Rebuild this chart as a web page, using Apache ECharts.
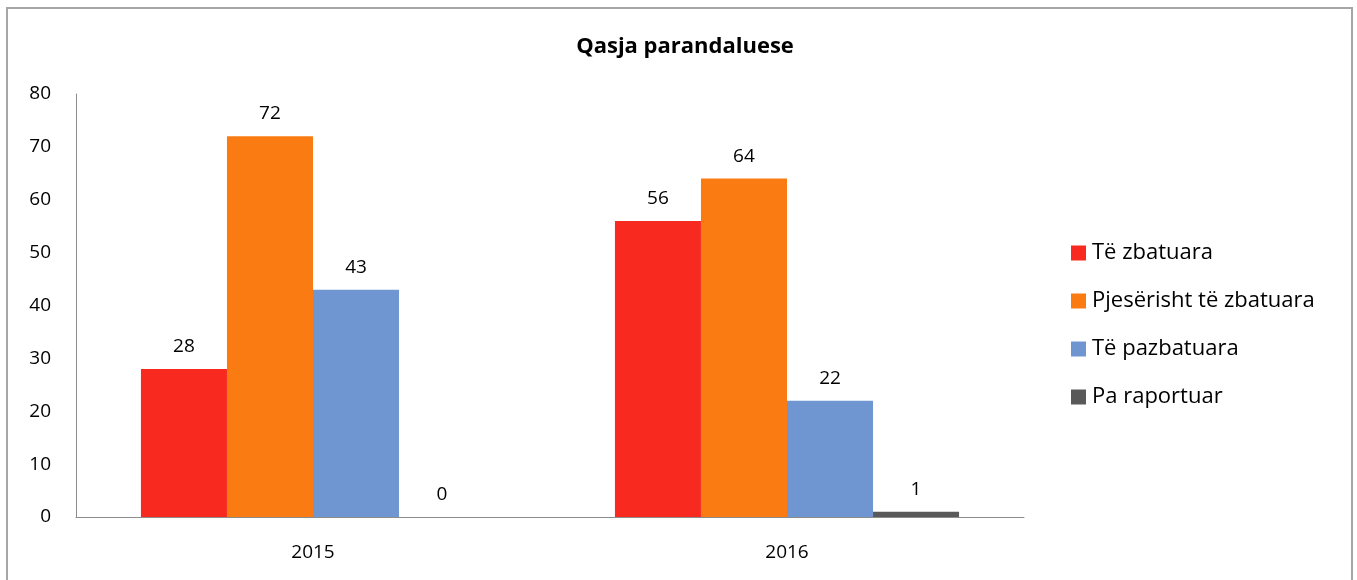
<!DOCTYPE html>
<html>
<head>
<meta charset="utf-8">
<script src="https://cdn.jsdelivr.net/npm/echarts@6/dist/echarts.min.js"></script>
<style>
  html, body { margin: 0; padding: 0; background: #fff; }
  #chart { width: 1357px; height: 580px; }
</style>
</head>
<body>
<div id="chart"></div>
<script>
const years = ['2015', '2016'];
const zbatuara = [28, 56];
const pjeserisht = [72, 64];
const pazbatuara = [43, 22];
const paRaportuar = [0, 1];
const yTicks = [0, 10, 20, 30, 40, 50, 60, 70, 80];

const font = 'Open Sans';

function bar(name, data, color) {
  return {
    name: name,
    type: 'bar',
    data: data,
    barGap: '0%',
    barCategoryGap: '27.4%',
    itemStyle: { color: color },
    label: {
      show: true,
      position: 'top',
      distance: 13,
      fontFamily: font,
      fontSize: 19,
      color: '#000'
    }
  };
}

const chart = echarts.init(document.getElementById('chart'));
chart.setOption({
  animation: false,
  backgroundColor: '#fff',
  title: {
    text: 'Qasja parandaluese',
    left: 680,
    textAlign: 'center',
    top: 31,
    textStyle: { fontFamily: font, fontSize: 22, fontWeight: 'bold', color: '#000' }
  },
  graphic: [{
    type: 'rect',
    shape: { x: 7, y: 8, width: 1345, height: 620 },
    style: { fill: 'none', stroke: '#a6a6a6', lineWidth: 2 }
  }],
  legend: {
    orient: 'vertical',
    left: 1066,
    top: 237,
    itemGap: 26,
    itemWidth: 15,
    itemHeight: 15,
    icon: 'rect',
    textStyle: { fontFamily: font, fontSize: 22, color: '#000', padding: [0, 0, 0, 1] },
    data: ['Të zbatuara', 'Pjesërisht të zbatuara', 'Të pazbatuara', 'Pa raportuar']
  },
  grid: { left: 76, right: 333, top: 94, bottom: 63 },
  xAxis: {
    type: 'category',
    data: years,
    axisLine: { lineStyle: { color: '#8c8c8c', width: 1 } },
    axisTick: { show: false },
    axisLabel: { fontFamily: font, fontSize: 19, color: '#000', margin: 26 }
  },
  yAxis: {
    type: 'value',
    min: yTicks[0],
    max: yTicks[yTicks.length - 1],
    interval: 10,
    axisLine: { show: true, lineStyle: { color: '#8c8c8c', width: 1 } },
    axisTick: { show: false },
    splitLine: { show: false },
    axisLabel: { fontFamily: font, fontSize: 19, color: '#000', margin: 25,
      formatter: v => yTicks.includes(v) ? String(v) : '' }
  },
  series: [
    bar('Të zbatuara', zbatuara, '#f8291f'),
    bar('Pjesërisht të zbatuara', pjeserisht, '#fb7b13'),
    bar('Të pazbatuara', pazbatuara, '#7096d2'),
    bar('Pa raportuar', paRaportuar, '#595959')
  ]
});
</script>
</body>
</html>
